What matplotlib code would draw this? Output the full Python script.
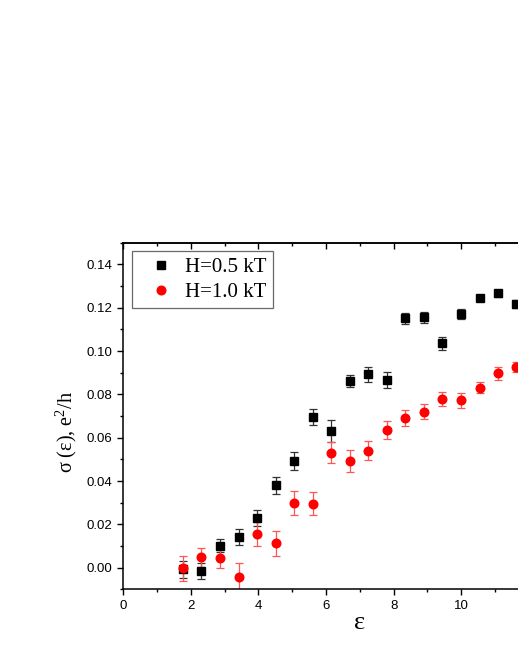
import numpy as np
import matplotlib.pyplot as plt
from matplotlib.ticker import MultipleLocator

# energy points (same for both fields)
eps = [1.77, 2.31, 2.86, 3.41, 3.96, 4.51, 5.06, 5.60, 6.15, 6.71,
       7.25, 7.79, 8.34, 8.89, 9.44, 9.99, 10.54, 11.09, 11.62]

# H = 0.5 kT
sig_05 = [-0.0008, -0.0014, 0.0100, 0.0140, 0.0230, 0.0380, 0.0494, 0.0697, 0.0630, 0.0863,
          0.0892, 0.0865, 0.1151, 0.1155, 0.1035, 0.1172, 0.1245, 0.1266, 0.1217]
err_05 = [0.0040, 0.0037, 0.0030, 0.0037, 0.0038, 0.0039, 0.0042, 0.0037, 0.0052, 0.0028,
          0.0033, 0.0037, 0.0026, 0.0025, 0.0031, 0.0022, 0.0015, 0.0015, 0.0020]

# H = 1.0 kT
sig_10 = [-0.0003, 0.0048, 0.0045, -0.0043, 0.0155, 0.0112, 0.0299, 0.0295, 0.0531, 0.0492,
          0.0540, 0.0635, 0.0691, 0.0720, 0.0778, 0.0772, 0.0831, 0.0898, 0.0926]
err_10 = [0.0059, 0.0043, 0.0048, 0.0066, 0.0055, 0.0056, 0.0056, 0.0053, 0.0048, 0.0052,
          0.0045, 0.0040, 0.0036, 0.0036, 0.0034, 0.0033, 0.0025, 0.0030, 0.0023]

x_ticks = [0, 2, 4, 6, 8, 10, 12, 14]
x_ticklabels = ['0', '2', '4', '6', '8', '10', '', '']  # 12 and 14 fall outside the crop

plt.rcParams['font.family'] = ['Liberation Sans', 'DejaVu Sans']
# superscript in the y label drawn in the same serif face
plt.rcParams['mathtext.fontset'] = 'custom'
plt.rcParams['mathtext.rm'] = 'Liberation Serif'

fig = plt.figure(figsize=(5.18, 6.70), dpi=100)
# axes run past the right edge of the figure, like the cropped original
ax = fig.add_axes([0.238, 0.1204, 0.9135, 0.5174])

ax.errorbar(eps, sig_05, yerr=err_05, fmt='none', ecolor='#333333', elinewidth=0.9,
            capsize=2.8, capthick=0.9, zorder=2)
ax.errorbar(eps, sig_10, yerr=err_10, fmt='none', ecolor='#ff5555', elinewidth=0.9,
            capsize=2.8, capthick=0.9, zorder=2)
ax.plot(eps, sig_05, 's', color='black', markersize=5.8, label='H=0.5 kT', zorder=3)
ax.plot(eps, sig_10, 'o', color='red', markersize=6.2, label='H=1.0 kT', zorder=3)

ax.set_xlim(0, 14)
ax.set_ylim(-0.01, 0.15)
ax.set_xticks(x_ticks, labels=x_ticklabels)
ax.xaxis.set_minor_locator(MultipleLocator(1))
ax.yaxis.set_major_locator(MultipleLocator(0.02))
ax.yaxis.set_minor_locator(MultipleLocator(0.01))
ax.yaxis.set_major_formatter(plt.FuncFormatter(lambda v, p: f'{v:.2f}'))

ax.tick_params(which='major', direction='out', length=4.5, width=1, labelsize=9.5)
ax.tick_params(which='minor', direction='out', length=2.5, width=1)
for s in ax.spines.values():
    s.set_linewidth(1.1)

# top axis: ticks pointing in, no labels
top = ax.secondary_xaxis('top')
top.xaxis.set_major_locator(MultipleLocator(2))
top.xaxis.set_minor_locator(MultipleLocator(1))
top.tick_params(which='major', direction='in', length=4.5, width=1, labeltop=False)
top.tick_params(which='minor', direction='in', length=2.5, width=1)
top.spines['top'].set_linewidth(1.1)

ax.set_xlabel('ε', family='Liberation Serif', fontsize=19, labelpad=0)
ax.set_ylabel(r'σ (ε), e$^{\mathrm{2}}$/h', family='Liberation Serif', fontsize=14.5)
ax.yaxis.set_label_coords(-0.094, 0.455)

leg = ax.legend(loc='upper left', bbox_to_anchor=(0.019, 0.975), frameon=True, fancybox=False,
                edgecolor='#444444', prop={'family': 'Liberation Serif', 'size': 15},
                handletextpad=0.12, labelspacing=0.25, borderpad=0.3, handlelength=2.13,
                borderaxespad=0)
leg.get_frame().set_linewidth(0.9)

fig.savefig('out.png', dpi=100)
